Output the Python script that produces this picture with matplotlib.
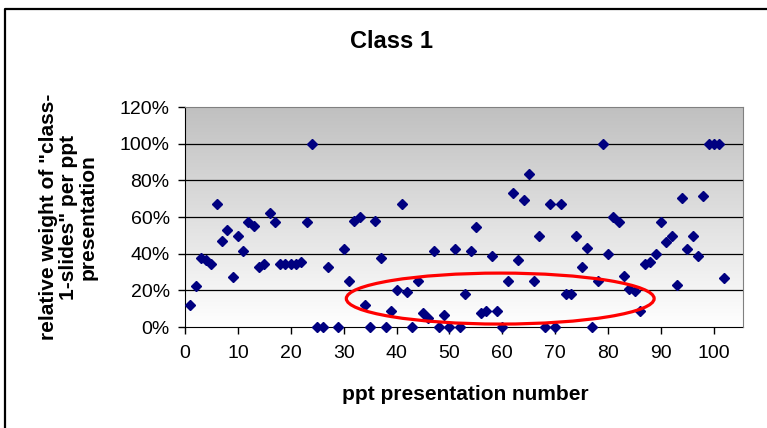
import numpy as np
import matplotlib
matplotlib.use("Agg")
import matplotlib.pyplot as plt
from matplotlib.colors import LinearSegmentedColormap
from matplotlib.lines import Line2D
from matplotlib.patches import Ellipse
from matplotlib.ticker import FuncFormatter

plt.rcParams['font.family'] = ['Liberation Sans', 'DejaVu Sans']

# presentation number and relative weight (%) of class-1 slides
pres = [1, 2, 3, 4, 5, 6, 7, 8, 9, 10, 11, 12, 13, 14, 15, 16, 17, 18, 19, 20,
        21, 22, 23, 24, 25, 26, 27, 29, 30, 31, 32, 33, 34, 35, 36, 37, 38, 39, 40,
        41, 42, 43, 44, 45, 46, 47, 48, 49, 50, 51, 52, 53, 54, 55, 56, 57, 58, 59,
        60, 61, 62, 63, 64, 65, 66, 67, 68, 69, 70, 71, 72, 73, 74, 75, 76, 77, 78,
        79, 80, 81, 82, 83, 84, 85, 86, 87, 88, 89, 90, 91, 92, 93, 94, 95, 96, 97,
        98, 99, 100, 101, 102]
weight = [12, 22.5, 37.5, 36.5, 34.5, 67, 47, 53, 27.5, 49.5, 41.5, 57.5, 55, 32.5,
          34.5, 62, 57.5, 34.5, 34.5, 34.5, 34.5, 35.5, 57.5, 100, 0, 0, 32.5, 0,
          42.5, 25, 58, 60, 12, 0, 58, 37.5, 0, 8.5, 20, 67, 19, 0, 25, 7.5, 5,
          41.5, 0, 6.5, 0, 42.5, 0, 18, 41.5, 54.5, 7.5, 8.5, 39, 8.5, 0, 25, 73,
          36.5, 69.5, 83.5, 25, 49.5, 0, 67, 0, 67, 18, 18, 49.5, 32.5, 43, 0, 25,
          100, 40, 60, 57.5, 28, 20.5, 19.5, 8.5, 34.5, 35.5, 40, 57.5, 46.5, 49.5,
          23, 70.5, 42.5, 49.5, 39, 71.5, 100, 100, 100, 27]

x_ticks = [0, 10, 20, 30, 40, 50, 60, 70, 80, 90, 100]
y_ticks = [0, 20, 40, 60, 80, 100, 120]

fig = plt.figure(figsize=(7.67, 4.28), dpi=100)
ax = fig.add_axes([185 / 767, 1 - 327 / 428, 558 / 767, 220 / 428])

# gradient background (grey at top -> white at bottom)
grad = np.linspace(0, 1, 256).reshape(-1, 1)
cmap = LinearSegmentedColormap.from_list('g', ['#ffffff', '#c0c0c0'])
ax.imshow(grad, cmap=cmap, origin='lower', aspect='auto',
          extent=[0, 105.5, 0, 120], zorder=0)

for yv in y_ticks[1:-1]:
    ax.axhline(yv, color='black', lw=0.9, zorder=1)

ax.plot(pres, weight, linestyle='none', marker='D', markersize=5.3,
        color='#000080', zorder=3, clip_on=False)

ell = Ellipse((59.6, 15.5), 58.2, 27.8, fill=False, edgecolor='#ff0000',
              lw=2.3, zorder=4)
ax.add_patch(ell)

ax.set_xlim(0, 105.5)
ax.set_ylim(0, 120)
ax.set_xticks(x_ticks)
ax.set_yticks(y_ticks)
ax.yaxis.set_major_formatter(FuncFormatter(lambda v, p: f"{int(v)}%"))
ax.tick_params(direction='out', length=5, width=1, labelsize=14, pad=6)
ax.tick_params(axis='x', pad=8)
for s in ['top', 'right']:
    ax.spines[s].set_color('#808080')
for s in ['left', 'bottom']:
    ax.spines[s].set_color('black')
    ax.spines[s].set_zorder(2)

fig.text(392 / 767, 1 - 42 / 428, 'Class 1', fontsize=17, fontweight='bold',
         ha='center', va='center')
fig.text(465 / 767, 1 - 395 / 428, 'ppt presentation number', fontsize=15,
         fontweight='bold', ha='center', va='center')
fig.text(68 / 767, 1 - 217 / 428, 'relative weight of "class-\n1-slides" per ppt\npresentation',
         fontsize=15, fontweight='bold', ha='center', va='center', rotation=90,
         multialignment='center', linespacing=1.05)

# chart frame (only top and left edges are visible in the crop)
fig.lines.append(Line2D([5 / 767, 5 / 767, 1], [0, 1 - 9 / 428, 1 - 9 / 428],
                        transform=fig.transFigure, color='black', lw=1.6))

fig.savefig('out.png', dpi=100)
